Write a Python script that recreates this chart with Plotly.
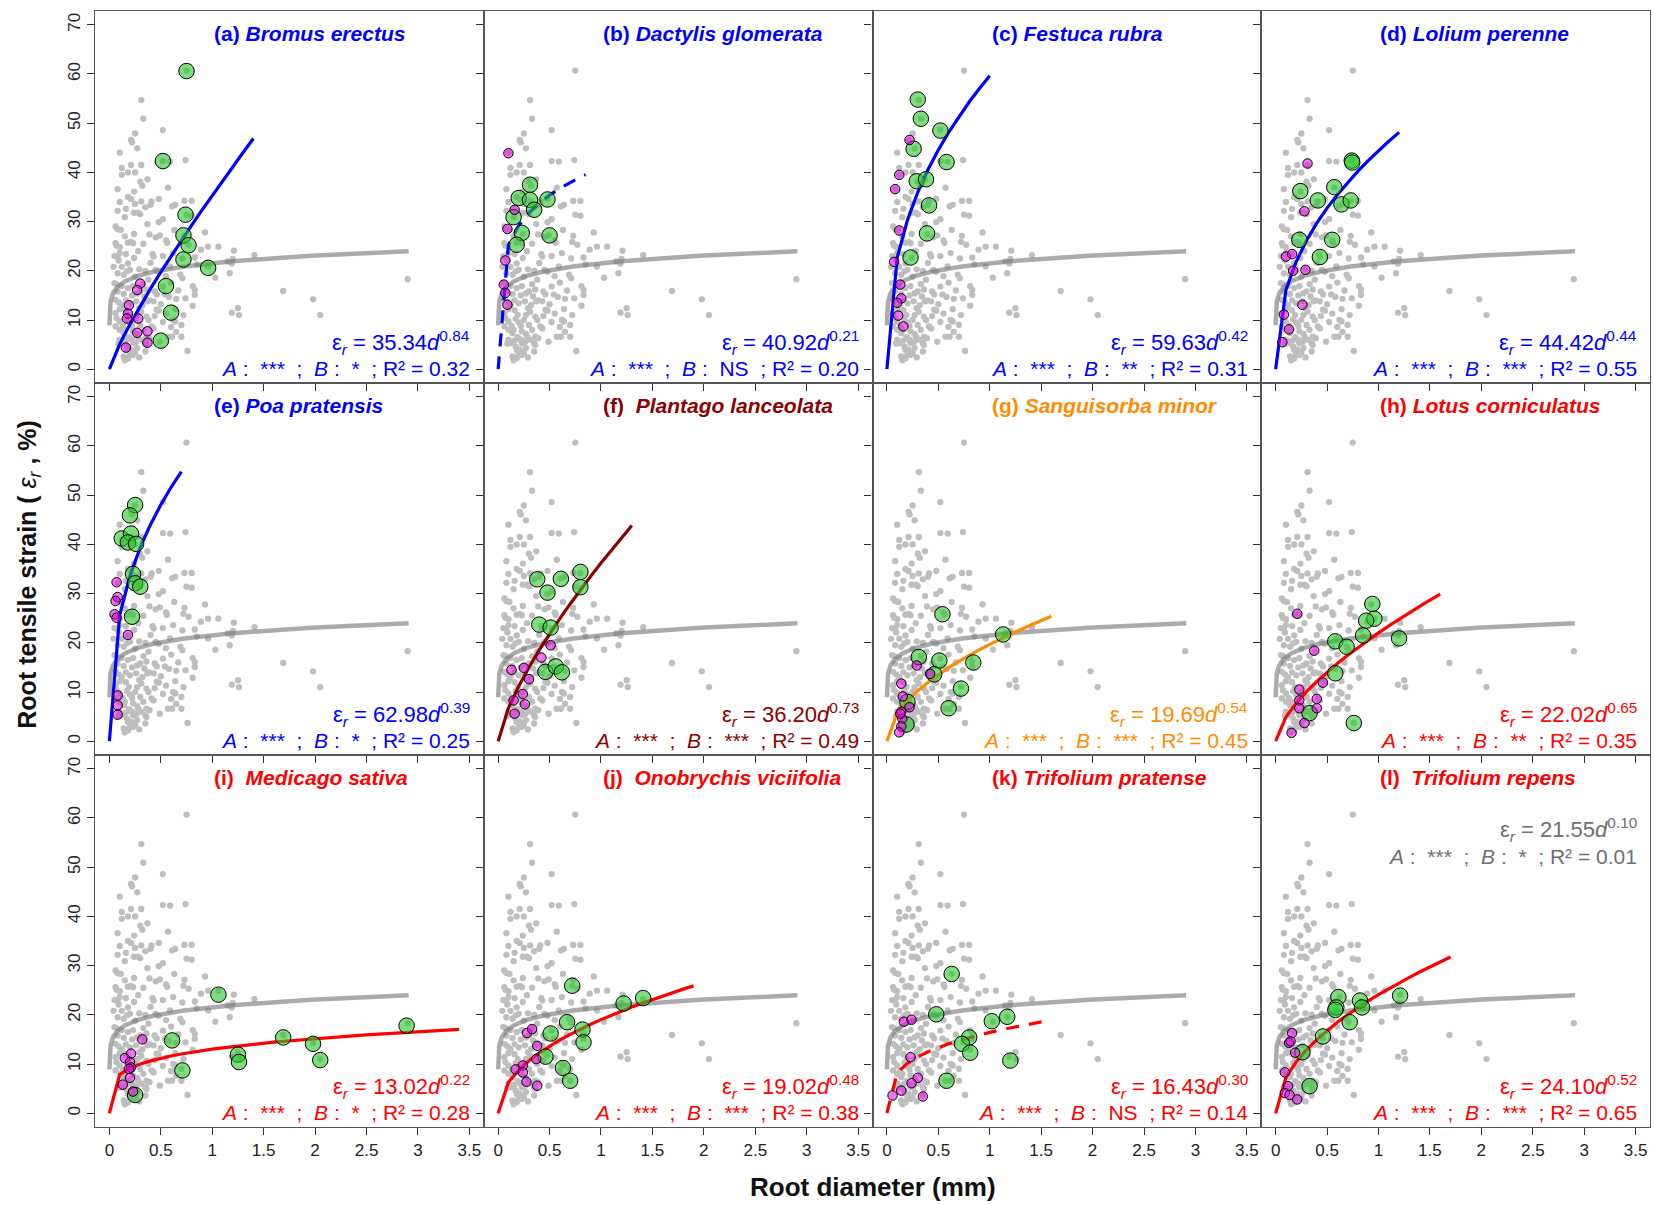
import numpy as np
import plotly.graph_objects as go
from plotly.subplots import make_subplots

FONT = "Arial, 'Liberation Sans', Helvetica, sans-serif"

# ---------------- pooled data (grey points, same in every panel) ----------------
grey_d = [0.75, 0.31, 0.33, 0.52, 0.25, 0.21, 0.22, 0.27, 0.10, 0.52, 0.59, 0.74, 0.12, 0.21, 0.31,
          0.12, 0.18, 0.25, 0.37, 0.30, 0.32, 0.57, 0.08, 0.24, 0.48, 0.21, 0.25, 0.31, 0.41, 0.40,
          0.35, 0.73, 0.80, 0.61, 0.64, 0.08, 0.16, 0.24, 0.28, 0.30, 0.15, 0.75, 0.80, 0.48, 0.06,
          0.08, 0.11, 0.63, 0.24, 0.39, 0.93, 0.49, 0.73, 0.06, 0.07, 0.10, 0.18, 0.21, 0.23, 0.55,
          0.56, 0.72, 0.77, 0.96, 0.89, 1.06, 1.21, 1.41, 0.08, 0.09, 0.16, 0.24, 0.42, 0.43, 0.52,
          0.62, 0.71, 0.83, 1.15, 1.20, 1.19, 0.18, 0.59, 0.85, 0.96, 0.29, 0.17, 0.48, 1.17, 1.03,
          0.25, 0.69, 0.71, 0.07, 0.12, 0.23, 0.33, 0.52, 0.81, 0.83, 0.08, 0.14, 0.27, 0.30, 0.44,
          0.46, 0.54, 0.83, 0.74, 0.06, 0.09, 0.20, 0.37, 0.39, 0.43, 0.46, 0.48, 0.64, 0.81, 0.10,
          0.06, 0.29, 0.31, 1.19, 1.25, 1.26, 0.72, 0.07, 0.10, 0.17, 0.36, 0.38, 0.64, 0.41, 0.43,
          0.30, 0.06, 0.10, 0.70, 0.14, 0.15, 0.23, 0.27, 0.36, 0.39, 0.57, 0.61, 0.70, 0.49, 0.10,
          0.12, 0.22, 0.23, 0.35, 0.36, 0.17, 0.18, 0.27, 0.35, 0.76, 0.14, 0.15, 0.18, 0.23, 1.69,
          1.98, 2.05, 2.90,
          0.05, 0.12, 0.13, 0.16, 0.19, 0.20, 0.22, 0.19, 0.21, 0.25, 0.26, 0.28, 0.25, 0.27, 0.33,
          0.32, 0.34, 0.36, 0.14, 0.12, 0.20, 0.10, 0.35, 0.38, 0.40, 0.45, 0.55, 0.60, 0.65, 0.67,
          0.50, 0.55, 0.52, 0.60, 0.65, 0.16, 0.18, 0.22, 0.26, 0.08, 0.04, 0.05, 0.28, 0.33, 0.37,
          0.45, 0.52, 0.15, 0.10, 0.18, 0.09, 0.16, 0.20, 0.29, 0.31, 0.44, 0.58, 0.62]
grey_e = [60.7, 54.7, 50.9, 48.6, 47.9, 46.6, 46.1, 44.9, 44.0, 42.3, 42.2, 42.5, 40.9, 41.5, 41.5,
          39.5, 40.0, 40.0, 38.6, 38.1, 37.3, 36.9, 36.6, 36.1, 34.6, 34.6, 33.6, 34.1, 34.1, 33.4,
          32.9, 34.2, 34.2, 33.1, 33.4, 32.2, 32.6, 31.8, 31.8, 31.5, 30.9, 31.4, 31.2, 29.9, 29.0,
          28.5, 28.3, 28.3, 27.5, 27.4, 27.8, 27.2, 27.1, 25.6, 25.1, 24.8, 25.7, 25.9, 25.6, 26.2,
          25.7, 25.9, 25.3, 24.9, 24.3, 24.9, 24.1, 23.2, 22.8, 22.1, 23.4, 22.6, 23.4, 22.9, 23.0,
          23.6, 22.5, 22.7, 21.9, 22.4, 21.5, 21.5, 20.9, 21.3, 20.9, 20.3, 19.9, 19.8, 19.5, 18.6,
          18.8, 19.2, 18.5, 17.3, 16.9, 16.9, 17.3, 16.8, 16.9, 16.1, 15.8, 15.3, 15.4, 15.8, 15.8,
          15.2, 15.2, 15.1, 14.4, 14.1, 13.6, 13.4, 13.8, 14.0, 13.8, 12.1, 11.9, 12.2, 12.9, 12.2,
          11.4, 12.4, 11.7, 11.5, 12.4, 11.0, 11.0, 10.4, 9.7, 10.2, 10.7, 10.0, 9.7, 8.7, 8.3,
          9.0, 8.7, 8.0, 9.0, 7.3, 8.0, 7.7, 7.2, 6.6, 6.3, 6.6, 6.6, 6.6, 5.6, 6.0,
          5.3, 6.0, 5.3, 5.3, 4.9, 4.6, 3.9, 4.3, 3.6, 3.7, 2.6, 1.8, 2.2, 2.9, 15.9,
          14.2, 11.0, 18.3,
          17.5, 13.0, 8.8, 12.0, 11.0, 9.5, 8.8, 6.5, 4.0, 3.3, 5.5, 6.6, 10.0, 11.0, 8.0,
          13.0, 14.8, 16.2, 19.2, 20.8, 20.2, 23.6, 20.0, 18.2, 21.6, 20.2, 18.9, 17.6, 14.3, 16.0,
          13.2, 11.3, 9.6, 8.6, 7.6, 14.0, 16.5, 15.0, 13.8, 19.5, 20.8, 23.0, 24.0, 25.5, 29.5,
          26.8, 30.5, 27.0, 34.0, 35.0, 5.2, 5.8, 3.0, 2.4, 6.0, 10.8, 14.7, 10.0]

# pooled fit (grey curve)
all_coef = 21.55
all_expo = 0.10
all_dmin = 0.00015
all_dmax = 2.91
all_sigA = "***"
all_sigB = "*"
all_r2 = 0.01

# ---------------- panels ----------------
letters = ["a", "b", "c", "d", "e", "f", "g", "h", "i", "j", "k", "l"]
species = ["Bromus erectus", "Dactylis glomerata", "Festuca rubra", "Lolium perenne",
           "Poa pratensis", "Plantago lanceolata", "Sanguisorba minor", "Lotus corniculatus",
           "Medicago sativa", "Onobrychis viciifolia", "Trifolium pratense", "Trifolium repens"]
title_gap = [1, 1, 1, 1, 1, 2, 1, 1, 2, 2, 1, 2]
colors = ["#0000FF", "#0000FF", "#0000FF", "#0000FF", "#0000FF", "#8B0000", "#FF8C00", "#FF0000",
          "#FF0000", "#FF0000", "#FF0000", "#FF0000"]
coef = [35.34, 40.92, 59.63, 44.42, 62.98, 36.20, 19.69, 22.02, 13.02, 19.02, 16.43, 24.10]
expo = [0.84, 0.21, 0.42, 0.44, 0.39, 0.73, 0.54, 0.65, 0.22, 0.48, 0.30, 0.52]
dmax = [1.40, 0.85, 1.00, 1.20, 0.70, 1.30, 1.60, 1.60, 3.40, 1.90, 1.60, 1.70]
dashed = [False, True, False, False, False, False, False, False, False, False, True, False]
sigA = ["***"] * 12
sigB = ["*", "NS", "**", "***", "*", "***", "***", "**", "*", "***", "NS", "***"]
r2 = [0.32, 0.20, 0.31, 0.55, 0.25, 0.49, 0.45, 0.35, 0.28, 0.38, 0.14, 0.65]

green_d_a = [0.75, 0.52, 0.74, 0.72, 0.77, 0.72, 0.96, 0.55, 0.60, 0.50]
green_e_a = [60.6, 42.3, 31.4, 27.2, 25.2, 22.3, 20.6, 16.9, 11.5, 5.8]
mag_d_a = [0.30, 0.27, 0.19, 0.18, 0.17, 0.28, 0.27, 0.37, 0.37, 0.16]
mag_e_a = [17.4, 16.1, 13.0, 11.3, 10.3, 10.3, 7.4, 7.7, 5.4, 4.4]

green_d_b = [0.31, 0.20, 0.31, 0.48, 0.35, 0.15, 0.23, 0.50, 0.18]
green_e_b = [37.5, 34.8, 34.4, 34.5, 32.4, 30.9, 27.7, 27.2, 25.3]
mag_d_b = [0.10, 0.16, 0.09, 0.07, 0.055, 0.07, 0.09]
mag_e_b = [43.9, 32.4, 28.5, 22.1, 17.2, 15.5, 13.1]

green_d_c = [0.30, 0.33, 0.52, 0.26, 0.58, 0.29, 0.38, 0.41, 0.39, 0.23]
green_e_c = [54.8, 50.9, 48.5, 44.8, 42.1, 38.2, 38.6, 33.3, 27.6, 22.7]
mag_d_c = [0.22, 0.12, 0.08, 0.12, 0.07, 0.13, 0.14, 0.10, 0.11, 0.16]
mag_e_c = [46.6, 39.5, 36.6, 28.2, 21.8, 17.2, 14.4, 13.5, 10.9, 8.7]

green_d_d = [0.74, 0.745, 0.24, 0.57, 0.41, 0.64, 0.73, 0.23, 0.55, 0.43]
green_e_d = [42.4, 42.0, 36.2, 37.0, 34.3, 33.5, 34.3, 26.3, 26.3, 22.8]
mag_d_d = [0.31, 0.28, 0.10, 0.16, 0.17, 0.29, 0.26, 0.08, 0.13, 0.065]
mag_e_d = [41.8, 32.1, 22.9, 23.4, 20.0, 20.2, 13.1, 11.1, 8.1, 5.5]

green_d_e = [0.25, 0.20, 0.12, 0.21, 0.18, 0.26, 0.23, 0.25, 0.30, 0.22]
green_e_e = [48.0, 45.9, 41.2, 42.2, 40.4, 40.1, 34.0, 32.1, 31.4, 25.3]
mag_d_e = [0.07, 0.08, 0.06, 0.05, 0.07, 0.18, 0.08, 0.08, 0.08]
mag_e_e = [32.3, 29.3, 28.5, 25.8, 25.1, 21.6, 9.3, 7.3, 5.4]

green_d_f = [0.38, 0.61, 0.80, 0.48, 0.80, 0.40, 0.51, 0.46, 0.56, 0.62]
green_e_f = [32.9, 33.0, 34.4, 30.2, 31.3, 23.7, 23.1, 14.1, 15.2, 14.0]
mag_d_f = [0.51, 0.42, 0.13, 0.25, 0.30, 0.24, 0.15, 0.26, 0.16]
mag_e_f = [19.5, 17.0, 14.5, 14.9, 12.6, 9.6, 8.3, 7.5, 5.6]

green_d_g = [0.54, 1.13, 0.31, 0.51, 0.84, 0.46, 0.72, 0.60, 0.20, 0.19]
green_e_g = [25.8, 21.7, 17.1, 16.4, 16.0, 13.6, 10.7, 6.7, 8.0, 3.4]
mag_d_g = [0.29, 0.42, 0.14, 0.155, 0.22, 0.14, 0.15, 0.14, 0.12, 0.13]
mag_e_g = [15.4, 13.7, 11.7, 9.1, 6.9, 6.0, 4.6, 3.0, 1.8, 5.6]

green_d_h = [0.94, 0.96, 0.88, 0.85, 0.58, 0.69, 1.20, 0.58, 0.33, 0.76]
green_e_h = [27.9, 24.9, 24.5, 21.5, 20.3, 19.2, 20.9, 13.8, 5.7, 3.7]
mag_d_h = [0.21, 0.375, 0.46, 0.23, 0.23, 0.40, 0.23, 0.40, 0.28, 0.155]
mag_e_h = [25.9, 18.4, 11.9, 10.5, 8.3, 8.6, 6.7, 6.7, 3.7, 1.7]

green_d_i = [1.06, 2.89, 1.69, 0.61, 1.98, 1.25, 1.26, 2.05, 0.71, 0.25]
green_e_i = [24.1, 17.8, 15.4, 14.8, 14.1, 11.9, 10.4, 10.8, 8.7, 3.7]
mag_d_i = [0.32, 0.21, 0.15, 0.20, 0.21, 0.19, 0.20, 0.13, 0.23]
mag_e_i = [15.0, 12.1, 11.2, 10.4, 9.3, 9.0, 7.2, 5.8, 4.4]

green_d_j = [0.72, 1.41, 1.22, 0.67, 0.82, 0.51, 0.83, 0.46, 0.63, 0.70]
green_e_j = [25.9, 23.4, 22.3, 18.5, 17.0, 16.2, 14.4, 11.5, 9.2, 6.6]
mag_d_j = [0.28, 0.33, 0.38, 0.37, 0.24, 0.17, 0.24, 0.275, 0.38]
mag_e_j = [16.3, 17.1, 13.7, 11.0, 9.7, 8.9, 8.3, 6.4, 5.6]

green_d_k = [0.63, 0.48, 1.02, 1.17, 0.80, 0.73, 0.81, 1.20, 0.58]
green_e_k = [28.3, 20.1, 18.7, 19.6, 15.4, 14.1, 12.3, 10.7, 6.6]
mag_d_k = [0.165, 0.24, 0.23, 0.30, 0.24, 0.14, 0.055, 0.35]
mag_e_k = [18.6, 19.0, 11.4, 7.2, 6.1, 4.6, 3.6, 3.4]

green_d_l = [1.21, 0.61, 0.59, 0.58, 0.82, 0.84, 0.72, 0.46, 0.26, 0.33]
green_e_l = [23.9, 23.6, 21.5, 21.0, 22.9, 21.5, 18.5, 15.6, 12.4, 5.5]
mag_d_l = [0.16, 0.13, 0.145, 0.19, 0.09, 0.12, 0.09, 0.135, 0.21]
mag_e_l = [16.3, 14.3, 14.6, 12.3, 8.3, 5.5, 4.1, 3.7, 2.8]

green_d = [green_d_a, green_d_b, green_d_c, green_d_d, green_d_e, green_d_f,
           green_d_g, green_d_h, green_d_i, green_d_j, green_d_k, green_d_l]
green_e = [green_e_a, green_e_b, green_e_c, green_e_d, green_e_e, green_e_f,
           green_e_g, green_e_h, green_e_i, green_e_j, green_e_k, green_e_l]
mag_d = [mag_d_a, mag_d_b, mag_d_c, mag_d_d, mag_d_e, mag_d_f,
         mag_d_g, mag_d_h, mag_d_i, mag_d_j, mag_d_k, mag_d_l]
mag_e = [mag_e_a, mag_e_b, mag_e_c, mag_e_d, mag_e_e, mag_e_f,
         mag_e_g, mag_e_h, mag_e_i, mag_e_j, mag_e_k, mag_e_l]

x_ticks = [0, 0.5, 1, 1.5, 2, 2.5, 3, 3.5]
x_ticklabels = ["0", "0.5", "1", "1.5", "2", "2.5", "3", "3.5"]
y_ticks = [0, 10, 20, 30, 40, 50, 60, 70]
y_ticklabels = ["0", "10", "20", "30", "40", "50", "60", "70"]

# ---------------- figure ----------------
NB = "\u00a0"
fig = make_subplots(rows=3, cols=4, horizontal_spacing=0, vertical_spacing=0)

d_all = np.geomspace(all_dmin, all_dmax, 300)
e_all = all_coef * d_all ** all_expo

for k in range(12):
    r = k // 4 + 1
    c = k % 4 + 1
    col = colors[k]
    fig.add_trace(go.Scatter(x=grey_d, y=grey_e, mode="markers",
                             marker=dict(size=6.3, color="#BEBEBE", line=dict(width=0)),
                             hoverinfo="skip", showlegend=False), row=r, col=c)
    fig.add_trace(go.Scatter(x=d_all, y=e_all, mode="lines",
                             line=dict(color="rgba(120,120,120,0.62)", width=4.5),
                             hoverinfo="skip", showlegend=False), row=r, col=c)
    ds = np.arange(0, dmax[k] + 1e-9, 0.1)
    if ds[-1] < dmax[k] - 1e-6:
        ds = np.append(ds, dmax[k])
    es = coef[k] * ds ** expo[k]
    fig.add_trace(go.Scatter(x=ds, y=es, mode="lines",
                             line=dict(color=col, width=3.2,
                                       dash="13px,10px" if dashed[k] else "solid"),
                             hoverinfo="skip", showlegend=False), row=r, col=c)
    fig.add_trace(go.Scatter(x=green_d[k], y=green_e[k], mode="markers",
                             marker=dict(size=15.5, color="rgba(40,200,40,0.6)",
                                         line=dict(width=1, color="#000000")),
                             hoverinfo="skip", showlegend=False), row=r, col=c)
    fig.add_trace(go.Scatter(x=mag_d[k], y=mag_e[k], mode="markers",
                             marker=dict(size=9.5, color="rgba(235,0,235,0.55)",
                                         line=dict(width=1, color="#000000")),
                             hoverinfo="skip", showlegend=False), row=r, col=c)

    idx = "" if k == 0 else str(k + 1)
    xr, yr = "x" + idx, "y" + idx
    gap = NB * title_gap[k]
    fig.add_annotation(x=1.0, y=68.2, xref=xr, yref=yr, xanchor="left", yanchor="middle",
                       text=f"<b>({letters[k]}){gap}<i>{species[k]}</i></b>", showarrow=False,
                       font=dict(family=FONT, size=21, color=col))
    fig.add_annotation(x=3.53, y=5.5, xref=xr, yref=yr, xanchor="right", yanchor="middle",
                       text=f"ε<sub><i>r</i></sub> = {coef[k]:.2f}<i>d</i><sup>{expo[k]:.2f}</sup>",
                       showarrow=False, font=dict(family=FONT, size=22, color=col))
    line2 = (f"<i>A</i>{NB}:{NB}{NB}{sigA[k]}{NB}{NB};{NB}{NB}<i>B</i>{NB}:{NB}{NB}{sigB[k]}"
             f"{NB}{NB};{NB}R²{NB}={NB}{r2[k]:.2f}")
    fig.add_annotation(x=3.53, y=0.2, xref=xr, yref=yr, xanchor="right", yanchor="middle",
                       text=line2, showarrow=False, font=dict(family=FONT, size=21, color=col))

fig.add_annotation(x=3.53, y=57.6, xref="x12", yref="y12", xanchor="right", yanchor="middle",
                   text=f"ε<sub><i>r</i></sub> = {all_coef:.2f}<i>d</i><sup>{all_expo:.2f}</sup>",
                   showarrow=False, font=dict(family=FONT, size=22, color="#707070"))
fig.add_annotation(x=3.53, y=52.2, xref="x12", yref="y12", xanchor="right", yanchor="middle",
                   text=(f"<i>A</i>{NB}:{NB}{NB}{all_sigA}{NB}{NB};{NB}{NB}<i>B</i>{NB}:{NB}{NB}{all_sigB}"
                         f"{NB}{NB};{NB}R²{NB}={NB}{all_r2:.2f}"),
                   showarrow=False, font=dict(family=FONT, size=21, color="#707070"))

AX = dict(showline=True, mirror=True, linecolor="#555555", linewidth=1.2,
          ticks="outside", ticklen=7, tickwidth=1.2, tickcolor="#333333",
          showgrid=False, zeroline=False,
          tickfont=dict(family=FONT, size=17, color="#222222"))

for k in range(12):
    r = k // 4 + 1
    c = k % 4 + 1
    fig.update_xaxes(AX, range=[-0.14, 3.64], tickvals=x_ticks, ticktext=x_ticklabels,
                     showticklabels=(r == 3), row=r, col=c)
    fig.update_yaxes(AX, range=[-2.8, 72.8], tickvals=y_ticks, ticktext=y_ticklabels,
                     showticklabels=(c == 1), tickangle=-90, row=r, col=c)

fig.add_annotation(x=0.5, y=-0.054, xref="paper", yref="paper", xanchor="center", yanchor="middle",
                   text="<b>Root diameter (mm)</b>", showarrow=False,
                   font=dict(family=FONT, size=26, color="#111111"))
fig.add_annotation(x=-0.043, y=0.495, xref="paper", yref="paper", xanchor="center", yanchor="middle",
                   textangle=-90,
                   text="<b>Root tensile strain (</b> <i>ε<sub>r</sub></i> <b>, %)</b>",
                   showarrow=False, font=dict(family=FONT, size=25, color="#111111"))

fig.update_layout(width=1654, height=1205,
                  margin=dict(l=95, r=4, t=11, b=78),
                  paper_bgcolor="white", plot_bgcolor="rgba(0,0,0,0)",
                  showlegend=False, font=dict(family=FONT))

fig.write_html("out.html", config={"displayModeBar": False},
               post_script="document.body.style.margin='0';document.body.style.overflow='hidden';")
